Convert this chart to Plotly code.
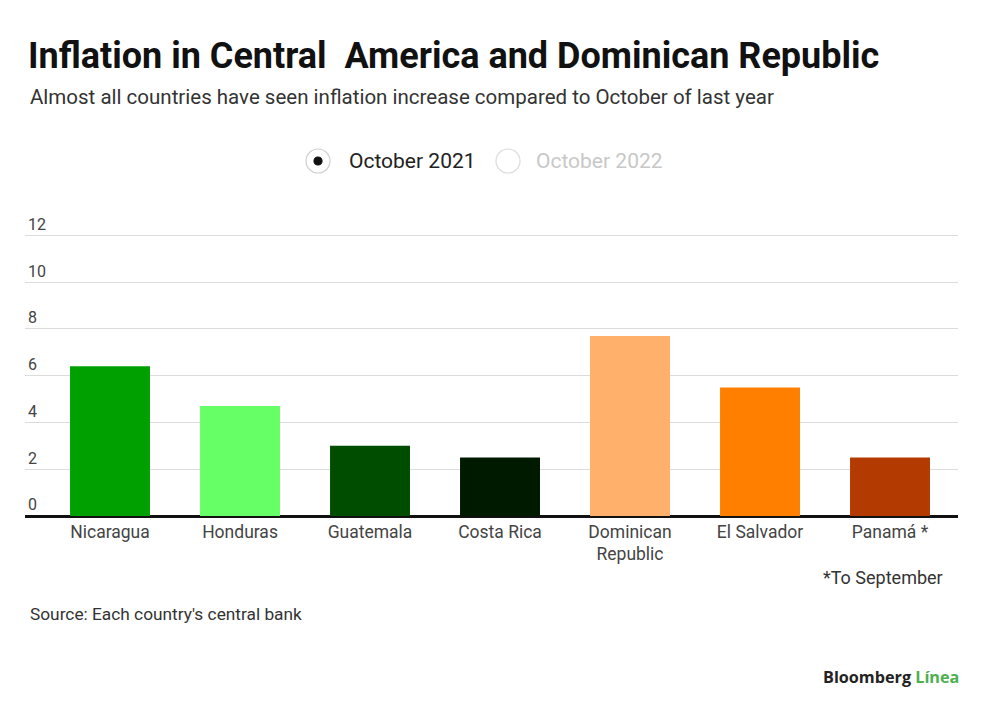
import plotly.graph_objects as go

countries = ["Nicaragua", "Honduras", "Guatemala", "Costa Rica",
             "Dominican<br>Republic", "El Salvador", "Panamá *"]
inflation_oct_2021 = [6.4, 4.7, 3.0, 2.5, 7.7, 5.5, 2.5]
bar_colors = ["#00a000", "#66ff66", "#004d00", "#001a00",
              "#ffb06a", "#ff7f00", "#b33a00"]
y_ticks = [0, 2, 4, 6, 8, 10, 12]
y_max = 13.3

W, H = 1000, 719
ZERO_Y = 516
PX_PER_UNIT = 23.42
L, R = 25, 42
B = H - ZERO_Y
T = int(round(ZERO_Y - y_max * PX_PER_UNIT))
PW, PH = W - L - R, H - T - B


def px(x):
    return (x - L) / PW


def py(y):
    return (H - B - y) / PH


fig = go.Figure()
fig.add_trace(go.Bar(
    x=countries, y=inflation_oct_2021,
    marker=dict(color=bar_colors, line=dict(width=0)),
    width=0.615, showlegend=False, hoverinfo="x+y",
))

font_main = "Roboto, 'Liberation Sans', Arial, sans-serif"

fig.update_layout(
    width=W, height=H,
    margin=dict(l=L, r=R, t=T, b=B),
    paper_bgcolor="white", plot_bgcolor="white",
    font=dict(family=font_main, color="#333"),
    xaxis=dict(
        range=[-0.654, 6.523], showgrid=False, zeroline=False,
        showline=False, ticks="", tickfont=dict(size=17.5, color="#444"),
        ticklabelstandoff=3, fixedrange=True,
    ),
    yaxis=dict(
        range=[0, y_max], tickvals=y_ticks, showgrid=True, gridcolor="#dcdcdc",
        gridwidth=1, zeroline=True, zerolinecolor="#111", zerolinewidth=2.5,
        ticklabelposition="inside top", tickfont=dict(size=16, color="#444"),
        ticks="", showline=False, fixedrange=True,
    ),
    showlegend=False,
)

annotations = [
    dict(text="<b>Inflation in Central  America and Dominican Republic</b>",
         x=px(26), y=py(56), xanchor="left", yanchor="middle",
         font=dict(size=36, color="#111", family=font_main)),
    dict(text="Almost all countries have seen inflation increase compared to October of last year",
         x=px(28), y=py(97), xanchor="left", yanchor="middle",
         font=dict(size=20.5, color="#333", family=font_main)),
    dict(text="October 2021", x=px(347), y=py(161), xanchor="left", yanchor="middle",
         font=dict(size=21, color="#222", family=font_main)),
    dict(text="October 2022", x=px(534), y=py(161), xanchor="left", yanchor="middle",
         font=dict(size=21, color="#c8c8c8", family=font_main)),
    dict(text="*To September", x=px(945), y=py(577), xanchor="right", yanchor="middle",
         font=dict(size=18, color="#333", family=font_main)),
    dict(text="Source: Each country's central bank", x=px(28), y=py(614),
         xanchor="left", yanchor="middle",
         font=dict(size=17.3, color="#333", family=font_main)),
    dict(text="<b>Bloomberg <span style='color:#4cb050'>Línea</span></b>",
         x=px(961), y=py(677), xanchor="right", yanchor="middle",
         font=dict(size=16.2, color="#222", family="'Open Sans', Roboto, sans-serif")),
]
for a in annotations:
    a.update(xref="paper", yref="paper", showarrow=False)
fig.update_layout(annotations=annotations)


def circle(cx, cy, r, fill, line):
    return dict(type="circle", xref="paper", yref="paper",
                xsizemode="pixel", ysizemode="pixel",
                xanchor=px(cx), yanchor=py(cy),
                x0=-r, x1=r, y0=-r, y1=r,
                fillcolor=fill, line=dict(color=line, width=1.2))


fig.update_layout(shapes=[
    circle(318, 161, 12, "white", "#d0d0d0"),
    circle(318, 161, 4, "#111", "#111"),
    circle(508, 161, 12, "white", "#dcdcdc"),
])

fig.write_html("out.html",
               config={"displayModeBar": False},
               post_script="document.body.style.margin='0px';document.body.style.padding='0px';")
